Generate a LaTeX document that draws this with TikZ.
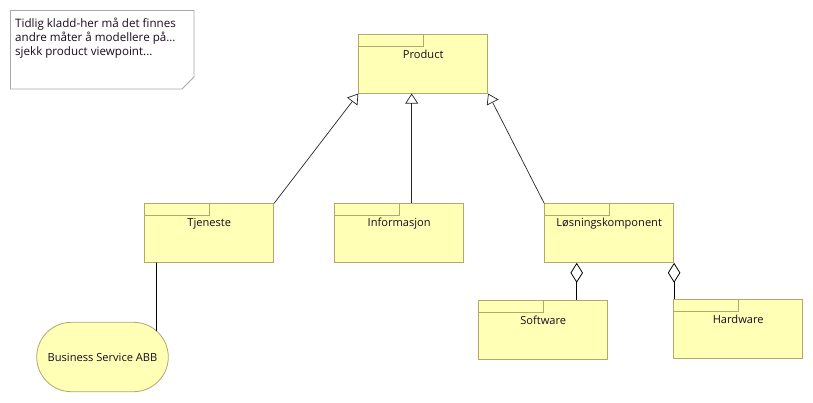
\documentclass[tikz,border=0pt]{standalone}
\usepackage{fontspec}
\setmainfont{Open Sans}
\usetikzlibrary{arrows.meta,shapes.misc,intersections}

\definecolor{elemfill}{HTML}{FFFFB5}
\definecolor{elemline}{HTML}{B0A86C}
\definecolor{noteline}{HTML}{A8A8A8}
\definecolor{txt}{HTML}{1A0A1E}

\tikzset{
  elem/.style={draw=elemline, fill=elemfill, line width=0.8pt, rectangle,
    minimum width=129pt, minimum height=58.5pt, inner sep=0pt, anchor=north west},
  tab/.style={draw=elemline, line width=0.8pt},
  lbl/.style={font=\fontsize{11.1}{12}\selectfont, text=txt, inner sep=0pt},
  gen/.style={draw=black!85, line width=0.7pt,
    -{Triangle[open, length=10pt, width=13pt, fill=white]}},
  agg/.style={draw=black, line width=0.8pt,
    {Diamond[open, length=20pt, width=12.5pt, fill=white]}-},
  plain/.style={draw=black, line width=0.8pt},
}

\begin{document}
\begin{tikzpicture}[x=1pt, y=-1pt]
\useasboundingbox (0,0) rectangle (813,403);

% note with folded corner
\draw[noteline, line width=0.8pt, fill=white]
  (10.5,10.5) -- (194,10.5) -- (194,77) -- (182,89) -- (10.5,89) -- cycle;
\node[lbl, anchor=north west, align=left, font=\fontsize{11.6}{14}\selectfont]
  (note) at (15,17.5) {Tidlig kladd-her må det finnes\\andre måter å modellere på...\\sjekk product viewpoint...};

% product elements (box with tab)
\newcommand{\prodelem}[4]{%
  \node[elem] (#1) at (#2,#3) {};
  \draw[tab] (#1.north west) rectangle ++(65,12);
  \node[lbl] (#1-t) at ([yshift=-20.5pt]#1.north) {#4};
}
\prodelem{product}{358.3}{34.3}{Product}
\prodelem{tjeneste}{144.3}{203.3}{Tjeneste}
\prodelem{info}{334.3}{203.3}{Informasjon}
\prodelem{losn}{544.3}{203.5}{Løsningskomponent}
\prodelem{soft}{478.3}{300.3}{Software}
\prodelem{hard}{673.3}{299.3}{Hardware}

% business service
\node[rounded rectangle, draw=elemline, fill=elemfill, line width=0.8pt,
  minimum width=131.6pt, minimum height=69.4pt, inner sep=0pt, name path=bsborder,
  font=\fontsize{11.1}{12}\selectfont, text=txt] (bs) at (102.5,357) {Business Service ABB};

% connectors
\coordinate (tjfoot) at ([xshift=12.2pt]tjeneste.south west);
\path[name path=tjdrop] (tjfoot) -- ++(0,100);
\path[name intersections={of=tjdrop and bsborder, by=bshit}];
\draw[plain] (tjfoot) -- (bshit);

\draw[gen] (tjeneste.north east) -- (product.south west);
\draw[gen] ([xshift=12.5pt]info.north) -- ([xshift=12.5pt]info.north |- product.south);
\draw[gen] (losn.north west) -- (product.south east);

\draw[agg] ([xshift=-32.5pt]losn.south) -- ([xshift=-32.5pt]losn.south |- soft.north);
\draw[agg] (losn.south east) -- (losn.south east |- hard.north);
\end{tikzpicture}
\end{document}
